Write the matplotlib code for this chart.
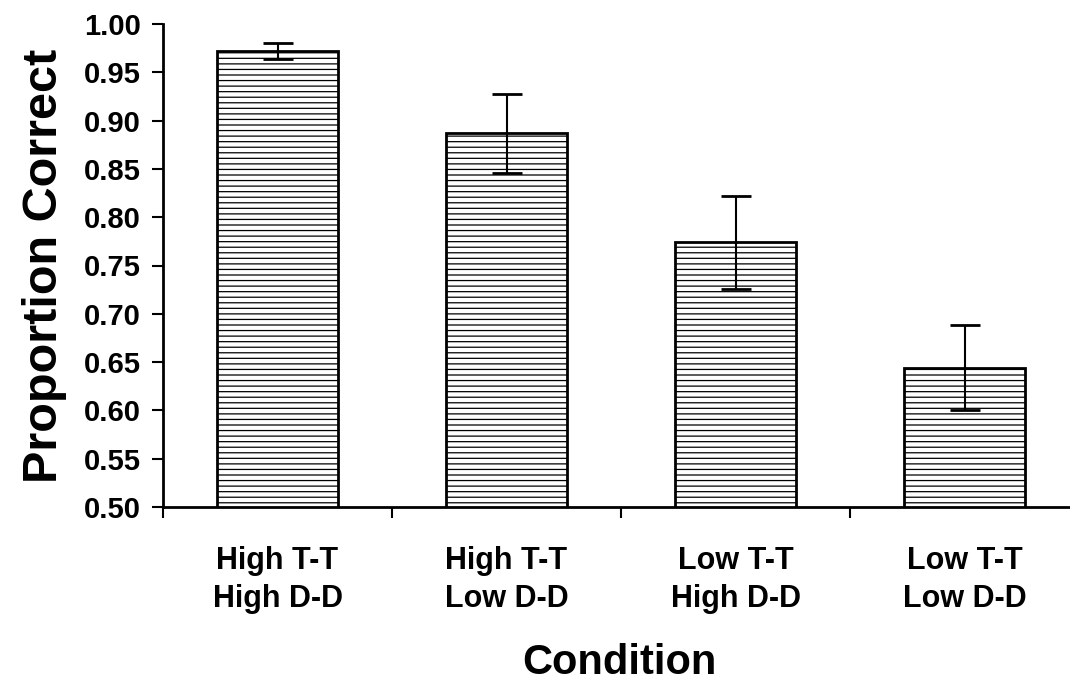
import matplotlib
matplotlib.use("Agg")
import matplotlib.pyplot as plt
import numpy as np

categories = ["High T-T\nHigh D-D", "High T-T\nLow D-D", "Low T-T\nHigh D-D", "Low T-T\nLow D-D"]
values = [0.972, 0.887, 0.774, 0.644]
errors = [0.008, 0.041, 0.048, 0.044]
yticks = [0.50, 0.55, 0.60, 0.65, 0.70, 0.75, 0.80, 0.85, 0.90, 0.95, 1.00]

plt.rcParams['font.family'] = ['Liberation Sans', 'DejaVu Sans']
plt.rcParams['font.weight'] = 'bold'
plt.rcParams['hatch.linewidth'] = 0.9
plt.rcParams['hatch.color'] = '#444444'

fig = plt.figure(figsize=(10.7, 6.84), dpi=100)
ax = fig.add_axes([163/1070, (684-507)/684, (1070-163)/1070, (507-24)/684])

x = np.arange(len(categories))
ax.bar(x, values, width=0.53, color='white', edgecolor='black', linewidth=2,
       hatch='---', zorder=2)
ax.errorbar(x, values, yerr=errors, fmt='none', ecolor='black', elinewidth=1.5,
            capsize=11, capthick=2, zorder=3)

ax.set_ylim(0.5, 1.0)
ax.set_xlim(-0.5, 3.46)
ax.set_yticks(yticks)
ax.set_yticklabels([f"{v:.2f}" for v in yticks], fontsize=21, fontweight='bold')
ax.set_xticks([-0.5, 0.5, 1.5, 2.5])
ax.set_xticklabels([])
ax.tick_params(axis='y', direction='out', length=8, width=1.5, pad=8)
ax.tick_params(axis='x', direction='out', length=8, width=1.5)
for i, lab in enumerate(categories):
    ax.text(x[i], -0.08, lab, transform=ax.get_xaxis_transform(), ha='center', va='top',
            fontsize=22, fontweight='bold', linespacing=1.35)

ax.spines['top'].set_visible(False)
ax.spines['right'].set_visible(False)
ax.spines['left'].set_linewidth(2)
ax.spines['bottom'].set_linewidth(2)

ax.set_ylabel("Proportion Correct", fontsize=35, fontweight='bold', labelpad=12)
fig.text((523+715)/2/1070, 1 - 663/684, "Condition", ha='center', va='center',
         fontsize=30, fontweight='bold')

fig.savefig("out.png", dpi=100, facecolor='white')
